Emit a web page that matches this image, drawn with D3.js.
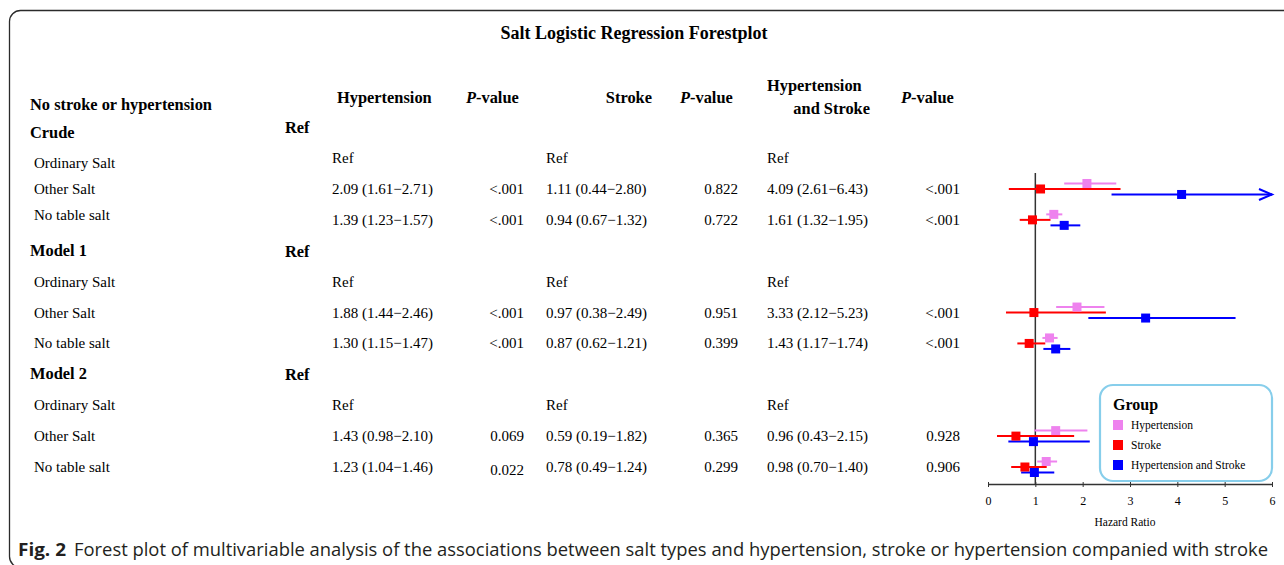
<!DOCTYPE html>
<html>
<head>
<meta charset="utf-8">
<script src="https://cdn.jsdelivr.net/npm/d3@7"></script>
<style>
  body { margin: 0; background: #fff; }
  svg { display: block; }
</style>
</head>
<body>
<div class="chart"></div>
<script>
// groups and rows
var models = ["Crude", "Model 1", "Model 2"];
var saltTypes = ["Ordinary Salt", "Other Salt", "No table salt"];
var seriesNames = ["Hypertension", "Stroke", "Hypertension and Stroke"];
var seriesColors = ["#EE82EE", "#FF0000", "#0000FF"];

// estimates for Other Salt / No table salt, per model (Crude, Model 1, Model 2)
var hypEst = [2.09, 1.39, 1.88, 1.30, 1.43, 1.23];
var hypLo  = [1.61, 1.23, 1.44, 1.15, 0.98, 1.04];
var hypHi  = [2.71, 1.57, 2.46, 1.47, 2.10, 1.46];
var hypP   = ["<.001", "<.001", "<.001", "<.001", "0.069", "0.022"];

var strokeEst = [1.11, 0.94, 0.97, 0.87, 0.59, 0.78];
var strokeLo  = [0.44, 0.67, 0.38, 0.62, 0.19, 0.49];
var strokeHi  = [2.80, 1.32, 2.49, 1.21, 1.82, 1.24];
var strokeP   = ["0.822", "0.722", "0.951", "0.399", "0.365", "0.299"];

var bothEst = [4.09, 1.61, 3.33, 1.43, 0.96, 0.98];
var bothLo  = [2.61, 1.32, 2.12, 1.17, 0.43, 0.70];
var bothHi  = [6.43, 1.95, 5.23, 1.74, 2.15, 1.40];
var bothP   = ["<.001", "<.001", "<.001", "<.001", "0.928", "0.906"];

var xTicks = [0, 1, 2, 3, 4, 5, 6];

var W = 1284, H = 565;
var serif = "'Liberation Serif', 'Times New Roman', serif";
var minus = "\u2212";

var svg = d3.select(".chart").append("svg")
  .attr("width", W)
  .attr("height", H);

// frame
svg.append("rect")
  .attr("x", 9.5).attr("y", 10.5)
  .attr("width", 1320).attr("height", 557)
  .attr("rx", 11)
  .attr("fill", "none")
  .attr("stroke", "#2b2b2b")
  .attr("stroke-width", 1.3);

// title
svg.append("text")
  .attr("x", 634).attr("y", 39)
  .attr("text-anchor", "middle")
  .attr("font-family", serif)
  .attr("font-weight", "bold")
  .attr("font-size", 18)
  .text("Salt Logistic Regression Forestplot");

// rows: index 0 = model header, 1..3 = salt types
var y = d3.scaleLinear().domain([0, 11]).range([127.2, 467]);
var x = d3.scaleLinear().domain([0, 6]).range([988, 1272]);

var g = svg.append("g").attr("font-family", serif).attr("fill", "#000");

// column headers
var hdr = g.append("g").attr("font-weight", "bold").attr("font-size", 16.4);
hdr.append("text").attr("x", 30).attr("y", 110).text("No stroke or hypertension");
hdr.append("text").attr("x", 337).attr("y", 103).text("Hypertension");
hdr.append("text").attr("x", 652).attr("y", 103).attr("text-anchor", "end").text("Stroke");
hdr.append("text").attr("x", 767).attr("y", 91).text("Hypertension");
hdr.append("text").attr("x", 870).attr("y", 114).attr("text-anchor", "end").text("and Stroke");
[466, 680, 901].forEach(function(px) {
  var t = hdr.append("text").attr("x", px).attr("y", 103);
  t.append("tspan").attr("font-style", "italic").text("P");
  t.append("tspan").text("-value");
});

var colHyp = 332, colP1 = 524, colStroke = 546, colP2 = 738, colBoth = 767, colP3 = 960;

function ci(e, lo, hi) {
  return e.toFixed(2) + " (" + lo.toFixed(2) + minus + hi.toFixed(2) + ")";
}

models.forEach(function(m, mi) {
  var base = mi * 4;
  g.append("text")
    .attr("x", 30).attr("y", y(base) + (mi === 0 ? 11 : 5))
    .attr("font-weight", "bold").attr("font-size", 16.4)
    .text(m);
  g.append("text")
    .attr("x", 285).attr("y", y(base) + 6)
    .attr("font-weight", "bold").attr("font-size", 16.4)
    .text("Ref");

  saltTypes.forEach(function(s, si) {
    var ry = y(base + 1 + si);
    // the crude block's row labels sit a little tighter than its values
    var labelY = mi === 0 ? y(base + 2) + (si - 1) * 26 : ry;
    g.append("text").attr("x", 34).attr("y", labelY + 5).attr("font-size", 15).text(s);
    if (si === 0) {
      [colHyp, colStroke, colBoth].forEach(function(cx) {
        g.append("text").attr("x", cx).attr("y", ry + 5).attr("font-size", 15).text("Ref");
      });
      return;
    }
    var k = mi * 2 + (si - 1);
    g.append("text").attr("x", colHyp).attr("y", ry + 5).attr("font-size", 15)
      .text(ci(hypEst[k], hypLo[k], hypHi[k]));
    g.append("text").attr("x", colP1).attr("y", ry + 5 + (k === 5 ? 3 : 0)).attr("font-size", 15)
      .attr("text-anchor", "end").text(hypP[k]);
    g.append("text").attr("x", colStroke).attr("y", ry + 5).attr("font-size", 15)
      .text(ci(strokeEst[k], strokeLo[k], strokeHi[k]));
    g.append("text").attr("x", colP2).attr("y", ry + 5).attr("font-size", 15)
      .attr("text-anchor", "end").text(strokeP[k]);
    g.append("text").attr("x", colBoth).attr("y", ry + 5).attr("font-size", 15)
      .text(ci(bothEst[k], bothLo[k], bothHi[k]));
    g.append("text").attr("x", colP3).attr("y", ry + 5).attr("font-size", 15)
      .attr("text-anchor", "end").text(bothP[k]);
  });
});

// forest plot
var plotBottom = 484;
var forest = svg.append("g");

forest.append("line")
  .attr("x1", x(1)).attr("x2", x(1))
  .attr("y1", 173).attr("y2", plotBottom)
  .attr("stroke", "#333").attr("stroke-width", 1.5);

var points = [];
var est = [hypEst, strokeEst, bothEst];
var lows = [hypLo, strokeLo, bothLo];
var highs = [hypHi, strokeHi, bothHi];
models.forEach(function(m, mi) {
  [1, 2].forEach(function(si) {
    var k = mi * 2 + (si - 1);
    var cy = y(mi * 4 + 1 + si);
    seriesNames.forEach(function(name, j) {
      points.push({
        series: j,
        y: cy + (j - 1) * 5.5,
        est: est[j][k], lo: lows[j][k], hi: highs[j][k]
      });
    });
  });
});

var xMax = x.domain()[1];
forest.selectAll(".ci")
  .data(points)
  .enter().append("line")
    .attr("class", "ci")
    .attr("x1", d => x(d.lo))
    .attr("x2", d => x(Math.min(d.hi, xMax)))
    .attr("y1", d => d.y).attr("y2", d => d.y)
    .attr("stroke", d => seriesColors[d.series])
    .attr("stroke-width", 2);

forest.selectAll(".arrow")
  .data(points.filter(d => d.hi > xMax))
  .enter().append("path")
    .attr("class", "arrow")
    .attr("d", d => "M" + (x(xMax) - 13) + "," + (d.y - 5.5) +
                    "L" + x(xMax) + "," + d.y +
                    "L" + (x(xMax) - 13) + "," + (d.y + 5.5))
    .attr("fill", "none")
    .attr("stroke", d => seriesColors[d.series])
    .attr("stroke-width", 2);

forest.selectAll(".pt")
  .data(points)
  .enter().append("rect")
    .attr("class", "pt")
    .attr("x", d => x(d.est) - 4.5)
    .attr("y", d => d.y - 4.5)
    .attr("width", 9).attr("height", 9)
    .attr("fill", d => seriesColors[d.series]);

// axis
var xAxis = d3.axisBottom(x).tickValues(xTicks).tickFormat(d3.format("d"))
  .tickSizeInner(4).tickSizeOuter(0);
var gX = svg.append("g")
  .attr("transform", "translate(0," + plotBottom + ")")
  .attr("font-family", serif)
  .call(xAxis);
gX.attr("font-family", serif);
gX.select(".domain").attr("stroke", "#333").attr("stroke-width", 1.3);
gX.selectAll(".tick line").attr("stroke", "#333").attr("y1", -2).attr("y2", 3);
gX.selectAll(".tick text")
  .attr("font-family", serif).attr("font-size", 12).attr("fill", "#000")
  .attr("y", 12);

svg.append("text")
  .attr("x", x(3) - 5).attr("y", 526)
  .attr("text-anchor", "middle")
  .attr("font-family", serif).attr("font-size", 11.5)
  .text("Hazard Ratio");

// legend
var lg = svg.append("g").attr("font-family", serif);
lg.append("rect")
  .attr("x", 1100).attr("y", 385)
  .attr("width", 172).attr("height", 96)
  .attr("rx", 13)
  .attr("fill", "#fff")
  .attr("stroke", "#87CEEB")
  .attr("stroke-width", 2.2);
lg.append("text")
  .attr("x", 1113).attr("y", 410)
  .attr("font-weight", "bold").attr("font-size", 16)
  .text("Group");
seriesNames.forEach(function(name, j) {
  lg.append("rect")
    .attr("x", 1113).attr("y", 420 + j * 20)
    .attr("width", 10).attr("height", 10)
    .attr("fill", seriesColors[j]);
  lg.append("text")
    .attr("x", 1131).attr("y", 429 + j * 20)
    .attr("font-size", 11.5)
    .text(name);
});

// caption
var sans = "'Open Sans', 'Noto Sans', sans-serif";
svg.append("text")
  .attr("x", 18).attr("y", 556)
  .attr("font-family", sans).attr("font-weight", "bold").attr("font-size", 18)
  .attr("fill", "#231f20")
  .attr("textLength", 48).attr("lengthAdjust", "spacingAndGlyphs")
  .text("Fig. 2");
svg.append("text")
  .attr("x", 74).attr("y", 556)
  .attr("font-family", sans).attr("font-size", 18)
  .attr("fill", "#231f20")
  .attr("textLength", 1194).attr("lengthAdjust", "spacingAndGlyphs")
  .text("Forest plot of multivariable analysis of the associations between salt types and hypertension, stroke or hypertension companied with stroke");
</script>
</body>
</html>
